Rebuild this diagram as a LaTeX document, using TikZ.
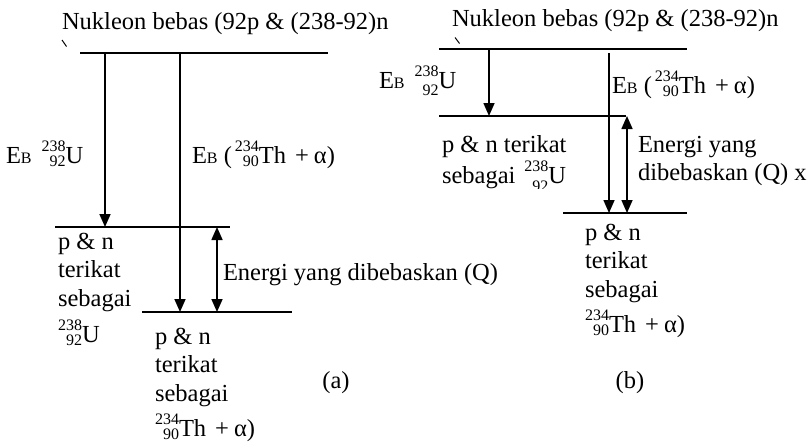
\documentclass[tikz,border=0pt]{standalone}
\usepackage{fontspec}
\setmainfont{Liberation Serif}
\usetikzlibrary{arrows.meta}
\newcommand\isot[4][3pt]{{\fontsize{16}{16}\selectfont\rlap{\raisebox{12pt}{#2}}\raisebox{-#1}{\hphantom{#2}\llap{#3}}}#4}
\newcommand\EB{E{\fontsize{16}{16}\selectfont B}}
\newcommand\thal{\isot{234}{90}{Th}\hspace{9pt}+\hspace{5pt}α)}
\newcommand\stk[1]{\begin{tabular}[t]{@{}l@{}}#1\end{tabular}}
\begin{document}
\begin{tikzpicture}[x=1pt,y=-1pt,
  every node/.style={inner sep=0pt,outer sep=0pt,font=\fontsize{24.5}{28.5}\selectfont},
  lvl/.style={line width=1.5pt},
  tip/.tip={Triangle[width=11pt,length=13pt]},
  arr/.style={line width=1.6pt,-tip},
  darr/.style={line width=1.6pt,tip-tip},
  lbl/.style={anchor=base west}]
\useasboundingbox (0,0) rectangle (811,442);
% ---------- (a) ----------
\node[lbl] (a-title) at (62,29) {Nukleon bebas (92p \& (238-92)n};
\coordinate (a-tk1) at (62,40); \coordinate (a-tk2) at (66.5,46.5);
\draw[line width=1pt] (a-tk1) -- (a-tk2);
\coordinate (a-top-l) at (80,53); \coordinate (a-top-r) at (328,53);
\coordinate (a-mid-l) at (55,227); \coordinate (a-mid-r) at (230,227);
\coordinate (a-bot-l) at (142,312); \coordinate (a-bot-r) at (292,312);
\draw[lvl] (a-top-l) -- (a-top-r);
\draw[lvl] (a-mid-l) -- (a-mid-r);
\draw[lvl] (a-bot-l) -- (a-bot-r);
\coordinate (a-u-s) at (105,53); \coordinate (a-u-e) at (105,227);
\coordinate (a-th-s) at (180,53); \coordinate (a-th-e) at (180,312);
\coordinate (a-q-s) at (217,227); \coordinate (a-q-e) at (217,312);
\draw[arr] (a-u-s) -- (a-u-e);
\draw[arr] (a-th-s) -- (a-th-e);
\draw[darr] (a-q-s) -- (a-q-e);
\node[lbl] (a-ebu) at (6,163) {\EB\hspace{10pt}\isot{238}{92}{U}};
\node[lbl] (a-ebth) at (192,163) {\EB\ (\hspace{3pt}\thal};
\node[lbl] (a-q) at (223,280) {Energi yang dibebaskan (Q)};
\node[lbl] (a-pu) at (58,249) {\stk{p \& n\\terikat\\sebagai\\[5pt]\isot{238}{92}{U}}};
\node[lbl] (a-pth) at (155,344) {\stk{p \& n\\terikat\\sebagai\\[4pt]\thal}};
\node[anchor=base] (a-cap) at (336,388) {(a)};
% ---------- (b) ----------
\node[lbl] (b-title) at (452,26) {Nukleon bebas (92p \& (238-92)n};
\coordinate (b-tk1) at (455,37.5); \coordinate (b-tk2) at (459.5,43.5);
\draw[line width=1pt] (b-tk1) -- (b-tk2);
\coordinate (b-top-l) at (439,49); \coordinate (b-top-r) at (687,49);
\coordinate (b-mid-l) at (439,116); \coordinate (b-mid-r) at (626,116);
\coordinate (b-bot-l) at (563,213); \coordinate (b-bot-r) at (687,213);
\draw[lvl] (b-top-l) -- (b-top-r);
\draw[lvl] (b-mid-l) -- (b-mid-r);
\draw[lvl] (b-bot-l) -- (b-bot-r);
\coordinate (b-u-s) at (489,49); \coordinate (b-u-e) at (489,116);
\coordinate (b-th-s) at (609,53); \coordinate (b-th-e) at (609,213);
\coordinate (b-q-s) at (627,116); \coordinate (b-q-e) at (627,213);
\draw[arr] (b-u-s) -- (b-u-e);
\draw[arr] (b-th-s) -- (b-th-e);
\draw[darr] (b-q-s) -- (b-q-e);
\node[lbl] (b-ebu) at (379,88) {\EB\hspace{10pt}\isot[7pt]{238}{92}{U}};
\node[lbl] (b-ebth) at (612,93) {\EB\ (\hspace{3pt}\thal};
\begin{scope}
\clip (430,125) rectangle (600,188);
\node[lbl] (b-pu) at (442,152) {\stk{p \& n terikat\\sebagai\hspace{9pt}\isot[8pt]{238}{92}{U}}};
\end{scope}
\node[lbl] (b-q) at (638,152) {\stk{Energi yang\\dibebaskan (Q) x}};
\node[lbl] (b-pth) at (585,240) {\stk{p \& n\\terikat\\sebagai\\[4pt]\thal}};
\node[anchor=base] (b-cap) at (630,388) {(b)};
\end{tikzpicture}
\end{document}
